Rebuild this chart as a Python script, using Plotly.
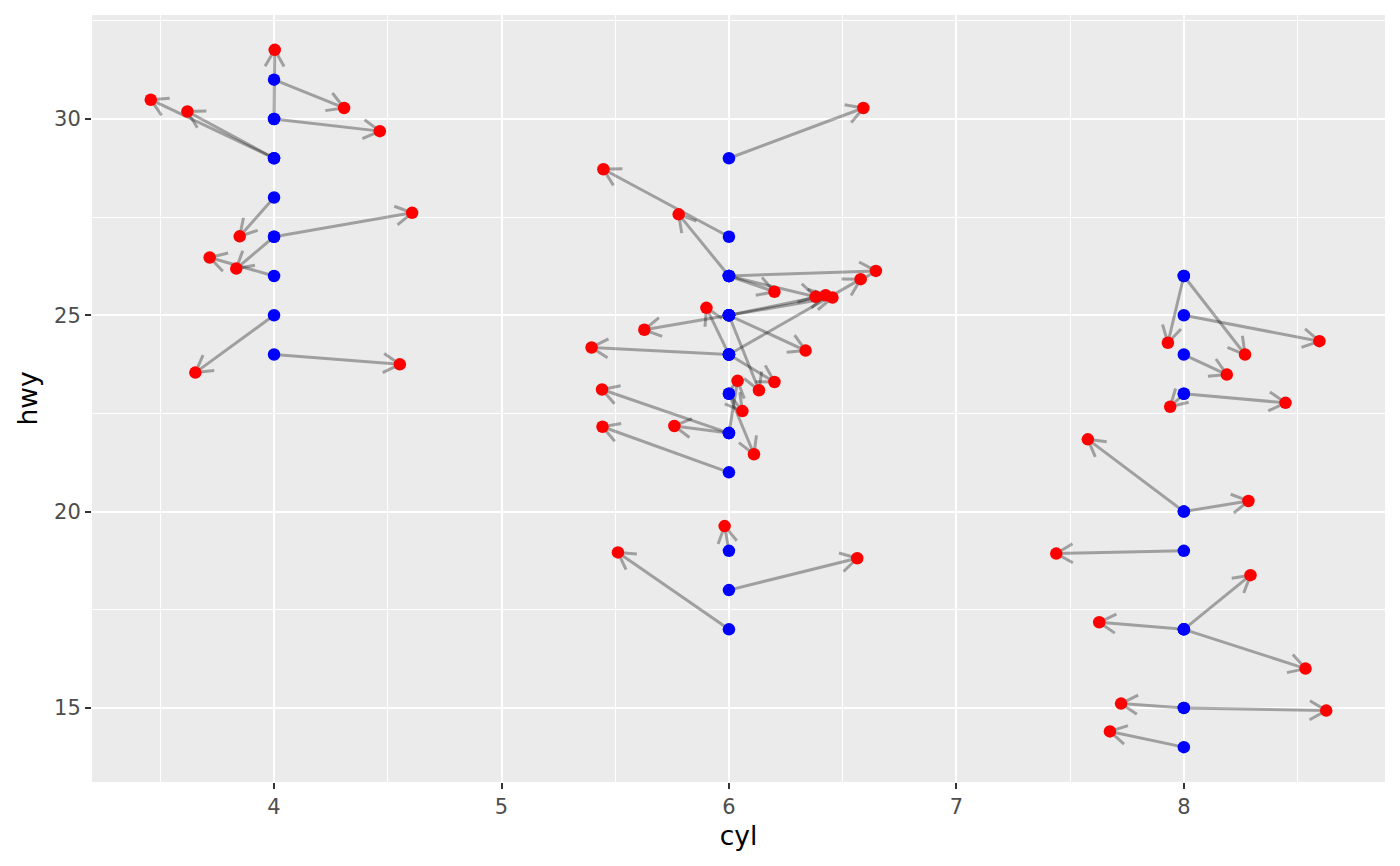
import math
import plotly.graph_objects as go

# original (blue) positions
cyl = [4, 4, 4, 4, 4, 4, 4, 4, 4, 4, 4,
       6, 6, 6, 6, 6, 6, 6, 6, 6, 6, 6, 6,
       6, 6, 6, 6, 6, 6, 6, 6, 6, 6, 6, 6,
       8, 8, 8, 8, 8, 8, 8, 8, 8, 8, 8, 8, 8, 8, 8]
hwy = [30, 31, 29, 29, 30, 27, 28, 26, 27, 25, 24,
       29, 27, 26, 26, 26, 26, 25, 25, 24, 24, 25, 24,
       25, 24, 25, 22, 23, 23, 22, 22, 21, 19, 17, 18,
       26, 26, 25, 24, 23, 23, 20, 20, 19, 17, 17, 17, 15, 15, 14]

# jittered (red) positions
cyl_jit = [4.003, 4.308, 3.458, 3.619, 4.465, 4.607, 3.849, 3.717, 3.834, 3.654, 4.553,
           6.591, 5.448, 5.779, 6.646, 6.200, 6.381, 6.425, 6.455, 6.579, 5.901, 5.628, 5.396,
           6.337, 6.200, 6.132, 6.038, 6.059, 6.110, 5.442, 5.760, 5.444, 5.981, 5.512, 6.564,
           7.930, 8.269, 8.596, 8.189, 7.940, 8.447, 7.578, 8.284, 7.439, 8.293, 7.628, 8.535,
           7.724, 8.626, 7.675]
hwy_jit = [31.76, 30.28, 30.49, 30.19, 29.69, 27.61, 27.01, 26.47, 26.19, 23.54, 23.75,
           30.28, 28.72, 27.57, 26.13, 25.60, 25.47, 25.51, 25.45, 25.92, 25.19, 24.63, 24.18,
           24.10, 23.30, 23.09, 23.33, 22.56, 21.46, 23.11, 22.18, 22.16, 19.63, 18.96, 18.81,
           24.30, 24.00, 24.34, 23.49, 22.67, 22.77, 21.84, 20.27, 18.93, 18.38, 17.18, 16.00,
           15.11, 14.93, 14.40]

x_ticks = [4, 5, 6, 7, 8]
y_ticks = [15, 20, 25, 30]

# page body has an 8px margin, so the figure is a bit smaller than the window
W, H = 1384, 850
ml, mr, mt, mb = 84, 7, 7, 76

all_x = cyl + cyl_jit
all_y = hwy + hwy_jit
xpad = 0.05 * (max(all_x) - min(all_x))
ypad = 0.05 * (max(all_y) - min(all_y))
xr = [min(all_x) - xpad, max(all_x) + xpad]
yr = [min(all_y) - ypad, max(all_y) + ypad]

# pixels per data unit, for drawing the open arrow heads
sx = (W - ml - mr) / (xr[1] - xr[0])
sy = (H - mt - mb) / (yr[1] - yr[0])
head_len = 19
head_ang = math.radians(30)

fig = go.Figure()

for x0, y0, x1, y1 in zip(cyl, hwy, cyl_jit, hwy_jit):
    dx = (x1 - x0) * sx
    dy = (y1 - y0) * sy
    n = math.hypot(dx, dy)
    bx, by = -dx / n, -dy / n
    arms = []
    for a in (head_ang, -head_ang):
        rx = bx * math.cos(a) - by * math.sin(a)
        ry = bx * math.sin(a) + by * math.cos(a)
        arms.append((x1 + head_len * rx / sx, y1 + head_len * ry / sy))
    fig.add_trace(go.Scatter(
        x=[x0, x1, None, arms[0][0], x1, arms[1][0]],
        y=[y0, y1, None, arms[0][1], y1, arms[1][1]],
        mode="lines",
        line=dict(color="rgba(0,0,0,0.32)", width=3),
        hoverinfo="skip",
    ))

fig.add_trace(go.Scatter(x=cyl, y=hwy, mode="markers",
                         marker=dict(color="#0000FF", size=12.5)))
fig.add_trace(go.Scatter(x=cyl_jit, y=hwy_jit, mode="markers",
                         marker=dict(color="#FF0000", size=12.5)))

axis_font = dict(family="DejaVu Sans", size=21, color="#4D4D4D")
title_font = dict(family="DejaVu Sans", size=26.5, color="black")

fig.update_layout(
    width=W, height=H,
    margin=dict(l=ml, r=mr, t=mt, b=mb),
    paper_bgcolor="white",
    plot_bgcolor="#EBEBEB",
    showlegend=False,
    hovermode=False,
    xaxis=dict(
        range=xr, tickvals=x_ticks, ticktext=[str(v) for v in x_ticks],
        showgrid=True, gridcolor="white", gridwidth=2,
        minor=dict(dtick=0.5, tick0=3.5, showgrid=True, gridcolor="white", gridwidth=1),
        zeroline=False, showline=False,
        ticks="outside", ticklen=6, tickwidth=1.5, tickcolor="#333333",
        tickfont=axis_font,
        title=dict(text="cyl", font=title_font, standoff=8),
    ),
    yaxis=dict(
        range=yr, tickvals=y_ticks, ticktext=[str(v) for v in y_ticks],
        showgrid=True, gridcolor="white", gridwidth=2,
        minor=dict(dtick=2.5, tick0=12.5, showgrid=True, gridcolor="white", gridwidth=1),
        zeroline=False, showline=False,
        ticks="outside", ticklen=6, tickwidth=1.5, tickcolor="#333333",
        tickfont=axis_font,
        title=dict(text="hwy", font=title_font, standoff=8),
    ),
)

fig.write_html("out.html")
